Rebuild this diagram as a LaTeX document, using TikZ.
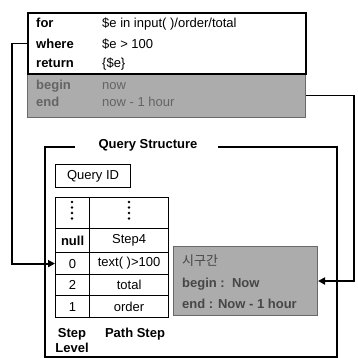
\documentclass[tikz,border=0pt]{standalone}
\usepackage{fontspec}
\setmainfont{Liberation Sans}
\newfontfamily\kr{Noto Sans CJK KR}
\usetikzlibrary{arrows.meta}
\definecolor{boxgray}{RGB}{172,172,172}
\definecolor{txtgray}{RGB}{70,70,70}
\definecolor{dimgraytxt}{RGB}{100,100,100}
\definecolor{edgegray}{RGB}{105,105,105}
\begin{document}
\begin{tikzpicture}[x=1pt,y=-1pt, font=\fontsize{13}{15}\selectfont,
  cell/.style={draw, line width=1.2pt, anchor=north west, inner sep=0pt},
  kw/.style={anchor=base west, font=\fontsize{13}{15}\selectfont\bfseries, inner sep=0pt},
  val/.style={anchor=base west, inner sep=0pt},
  graybox/.style={draw=edgegray, fill=boxgray, line width=1pt, anchor=north west, inner sep=0pt},
  conn/.style={line width=1.8pt, -{Triangle[length=7pt,width=7pt]}}]
\useasboundingbox (0,0) rectangle (357,358);

% top query box
\node[graybox, minimum width=278pt, minimum height=44pt] (timespec) at (27,73) {};
\node[draw, fill=white, line width=2pt, minimum width=278pt, minimum height=61pt, anchor=north west, inner sep=0pt] (query) at (27,12) {};
\node[kw] (kfor) at (36,28) {for};
\node[kw] (kwhere) at (36,48.5) {where};
\node[kw] (kret) at (36,68) {return};
\node[kw, text=dimgraytxt] (kbeg) at (36,90) {begin};
\node[kw, text=dimgraytxt] (kend) at (36,107) {end};
\node[val] (vfor) at (102,28) {\$e in input( )/order/total};
\node[val] (vwhere) at (102,48.5) {\$e > 100};
\node[val] (vret) at (102,68) {\{\$e\}};
\node[val, text=dimgraytxt] (vbeg) at (102,90) {now};
\node[val, text=dimgraytxt] (vend) at (102,107) {now - 1 hour};

% query structure frame
\node[font=\fontsize{13}{15}\selectfont\bfseries] (title) at (148,145) {Query Structure};
\draw[line width=2pt] (218,147) -- (337,147) -- (337,357) -- (45,357) -- (45,147) -- (75,147);

% query id
\node[draw, line width=1.2pt, minimum width=75pt, minimum height=23pt, anchor=north west, inner sep=0pt] (qid) at (55,164) {Query ID};

% table
\node[cell, minimum width=34pt, minimum height=31pt] (d1) at (55,197) {};
\node[cell, minimum width=79pt, minimum height=31pt] (d2) at (89,197) {};
\node[cell, minimum width=34pt, minimum height=24pt, font=\fontsize{13}{15}\selectfont\bfseries] (rna) at (55,228) {null};
\node[cell, minimum width=79pt, minimum height=24pt] (rnb) at (89,228) {Step4};
\node[cell, minimum width=34pt, minimum height=22pt] (r0a) at (55,252) {0};
\node[cell, minimum width=79pt, minimum height=22pt] (r0b) at (89,252) {text( )>100};
\node[cell, minimum width=34pt, minimum height=21pt] (r2a) at (55,274) {2};
\node[cell, minimum width=79pt, minimum height=21pt] (r2b) at (89,274) {total};
\node[cell, minimum width=34pt, minimum height=22pt] (r1a) at (55,295) {1};
\node[cell, minimum width=79pt, minimum height=22pt] (r1b) at (89,295) {order};
\foreach \yy in {202,207.5,213,218.5} {
  \fill (72,\yy) circle (1.3pt);
  \fill (129,\yy) circle (1.3pt);
}
\node[font=\fontsize{13}{15}\selectfont\bfseries, align=center, inner sep=0pt] (lvl) at (72,341) {Step\\Level};
\node[font=\fontsize{13}{15}\selectfont\bfseries, inner sep=0pt] (ps) at (135,334) {Path Step};

% time interval box
\node[graybox, minimum width=144pt, minimum height=69pt] (sigu) at (173,246) {};
\node[val, text=txtgray] (s1) at (182,265) {\kr 시구간};
\node[kw, text=txtgray] (s2) at (182,287) {begin :\ \ Now};
\node[kw, text=txtgray] (s3) at (182,308) {end : Now - 1 hour};

% connectors
\draw[conn] (query.west) -- ++(-15,0) |- (r0a.west);
\draw[conn] (timespec.east) -- ++(48,0) |- (sigu.east);
\end{tikzpicture}
\end{document}
